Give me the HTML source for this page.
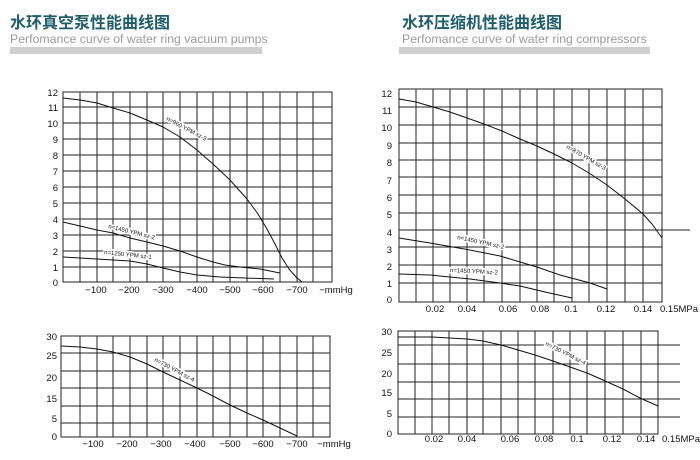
<!DOCTYPE html>
<html><head><meta charset="utf-8"><style>
body{margin:0;background:#fff;width:700px;height:460px;overflow:hidden}
svg{display:block}
.t{font-family:"Liberation Sans","Noto Sans CJK SC",sans-serif;font-weight:bold;font-size:16px;fill:#1d5d6c}
.s{font-family:"Liberation Sans",sans-serif;font-size:12.3px;fill:#9a9a9a}
.l{font-family:"Liberation Sans",sans-serif;font-size:9.5px;fill:#111}
.c{font-family:"Liberation Sans",sans-serif;font-size:6px;fill:#111}
.g{stroke:#222;stroke-width:1;fill:none}
.k{stroke:#111;stroke-width:1;fill:none;stroke-linejoin:round}
</style></head><body>
<svg width="700" height="460" xmlns="http://www.w3.org/2000/svg">
<text class="t" x="10" y="28">水环真空泵性能曲线图</text>
<text class="s" x="10" y="43">Perfomance curve of water ring vacuum pumps</text>
<rect x="10" y="47" width="252" height="7" fill="#cfcfcf"/>
<text class="t" x="402" y="28">水环压缩机性能曲线图</text>
<text class="s" x="402" y="43">Perfomance curve of water ring  compressors</text>
<rect x="399" y="47" width="251" height="7" fill="#cfcfcf"/>

<!-- top-left -->
<g class="g">
<rect x="63" y="92" width="269" height="190"/>
<path d="M63 107H332M63 123H332M63 139H332M63 155H332M63 171H332M63 187H332M63 203H332M63 219H332M63 235H332M63 251H332M63 267H332"/>
<path d="M80 92V282M97 92V282M113 92V282M130 92V282M147 92V282M163 92V282M180 92V282M197 92V282M213 92V282M230 92V282M247 92V282M263 92V282M280 92V282M297 92V282M313 92V282"/>
</g>
<g class="l" text-anchor="end">
<text x="58" y="96">12</text><text x="58" y="111">11</text><text x="58" y="127">10</text><text x="58" y="143">9</text><text x="58" y="159">8</text><text x="58" y="175">7</text><text x="58" y="191">6</text><text x="58" y="207">5</text><text x="58" y="223">4</text><text x="58" y="239">3</text><text x="58" y="255">2</text><text x="58" y="271">1</text><text x="58" y="286">0</text>
</g>
<g class="l" text-anchor="middle">
<text x="96" y="293">−100</text><text x="129" y="293">−200</text><text x="163" y="293">−300</text><text x="197" y="293">−400</text><text x="230" y="293">−500</text><text x="263" y="293">−600</text><text x="297" y="293">−700</text><text x="336" y="293">−mmHg</text>
</g>
<polyline class="k" points="63,98 80,100 97,103 113,108 130,113 147,120 163,127 180,137 197,150 213,164 230,180 247,199 258,214 267,229 275,244 282,258 289,269 296,277 302,282"/>
<polyline class="k" points="63,222 80,226 97,230 113,233 130,238 147,242 163,246 180,251 197,257 213,262 225,265 240,267 260,269 280,273"/>
<polyline class="k" points="63,257 97,259 130,261 147,264 163,268 180,272 197,275 220,277 245,278 274,279"/>
<g class="c">
<text transform="translate(166,120) rotate(28)" stroke="#fff" stroke-width="3" paint-order="stroke">n=960 YPM   sz-3</text>
<text transform="translate(108,228) rotate(14)" stroke="#fff" stroke-width="3" paint-order="stroke">n=1450 YPM   sz-2</text>
<text transform="translate(104,254) rotate(6)" stroke="#fff" stroke-width="3" paint-order="stroke">n=1250 YPM  sz-1</text>
</g>

<!-- top-right -->
<g class="g">
<rect x="399" y="89" width="263" height="213"/>
<path d="M399 107H662M399 125H662M399 143H662M399 160H662M399 177H662M399 195H662M399 213H662M399 230H690M399 247H662M399 265H662M399 283H662"/>
<path d="M416 89V302M433 89V302M450 89V302M467 89V302M484 89V302M502 89V302M520 89V302M537 89V302M554 89V302M572 89V302M589 89V302M607 89V302M625 89V302M643 89V302"/>
</g>
<g class="l" text-anchor="end">
<text x="392" y="97">12</text><text x="392" y="114">11</text><text x="392" y="131">10</text><text x="392" y="149">9</text><text x="392" y="166">8</text><text x="392" y="184">7</text><text x="392" y="201">6</text><text x="392" y="218">5</text><text x="392" y="236">4</text><text x="392" y="253">3</text><text x="392" y="270">2</text><text x="392" y="287">1</text><text x="392" y="303">0</text>
</g>
<g class="l" text-anchor="middle">
<text x="435" y="312">0.02</text><text x="467" y="312">0.04</text><text x="508" y="312">0.06</text><text x="540" y="312">0.08</text><text x="571" y="312">0.1</text><text x="606" y="312">0.12</text><text x="643" y="312">0.14</text><text x="679" y="312">0.15MPa</text>
</g>
<polyline class="k" points="399,99 416,102 433,107 450,112 467,118 484,124 502,131 520,139 537,146 554,154 572,163 589,173 607,185 625,199 643,214 652,224 662,238"/>
<polyline class="k" points="399,238 430,243 470,250 500,256 520,262 537,267 560,275 590,283 607,289"/>
<polyline class="k" points="399,274 430,275 470,279 500,283 520,286 545,292 572,298"/>
<g class="c">
<text transform="translate(566,148) rotate(30)" stroke="#fff" stroke-width="3" paint-order="stroke">n=870 YPM   sz-3</text>
<text transform="translate(457,239) rotate(12)" stroke="#fff" stroke-width="3" paint-order="stroke">n=1450 YPM   sz-2</text>
<text transform="translate(450,272) rotate(3)" stroke="#fff" stroke-width="3" paint-order="stroke">n=1450 YPM  sz-2</text>
</g>

<!-- bottom-left -->
<g class="g">
<rect x="61" y="336" width="269" height="101"/>
<path d="M61 353H330M61 371H330M61 388H330M61 406H330M61 423H330"/>
<path d="M80 336V437M97 336V437M113 336V437M130 336V437M147 336V437M163 336V437M180 336V437M197 336V437M213 336V437M230 336V437M247 336V437M263 336V437M280 336V437M297 336V437M313 336V437"/>
</g>
<g class="l" text-anchor="end">
<text x="57" y="340">30</text><text x="57" y="359">25</text><text x="57" y="381">20</text><text x="57" y="402">15</text><text x="57" y="422">5</text><text x="57" y="440">0</text>
</g>
<g class="l" text-anchor="middle">
<text x="93" y="447">−100</text><text x="127" y="447">−200</text><text x="161" y="447">−300</text><text x="195" y="447">−400</text><text x="230" y="447">−500</text><text x="263" y="447">−600</text><text x="297" y="447">−700</text><text x="334" y="447">−mmHg</text>
</g>
<polyline class="k" points="61,346 80,347 97,349 113,352 130,357 147,364 163,372 180,380 197,388 213,396 230,405 247,413 263,420 280,428 297,436"/>
<text class="c" transform="translate(154,361) rotate(28)" stroke="#fff" stroke-width="3" paint-order="stroke">n=730 YPM   sz-4</text>

<!-- bottom-right -->
<g class="g">
<rect x="398" y="331" width="260" height="103"/>
<path d="M398 345H680M398 364H680M398 382H680M398 399H680M398 417H680"/>
<path d="M415 331V434M432 331V434M449 331V434M467 331V434M483 331V434M501 331V434M518 331V434M535 331V434M553 331V434M570 331V434M587 331V434M605 331V434M623 331V434M641 331V434"/>
</g>
<g class="l" text-anchor="end">
<text x="392" y="335">30</text><text x="392" y="356">25</text><text x="392" y="377">20</text><text x="392" y="396">15</text><text x="392" y="417">5</text><text x="392" y="437">0</text>
</g>
<g class="l" text-anchor="middle">
<text x="434" y="442">0.02</text><text x="467" y="442">0.04</text><text x="510" y="442">0.06</text><text x="544" y="442">0.08</text><text x="577" y="442">0.1</text><text x="612" y="442">0.12</text><text x="646" y="442">0.14</text><text x="681" y="442">0.15MPa</text>
</g>
<polyline class="k" points="398,337 432,337 467,339 483,341 501,345 518,350 535,355 553,361 570,367 587,373 603,380 623,389 640,398 658,406"/>
<text class="c" transform="translate(545,345) rotate(27)" stroke="#fff" stroke-width="3" paint-order="stroke">n=730 YPM   sz-4</text>
</svg>
</body></html>
